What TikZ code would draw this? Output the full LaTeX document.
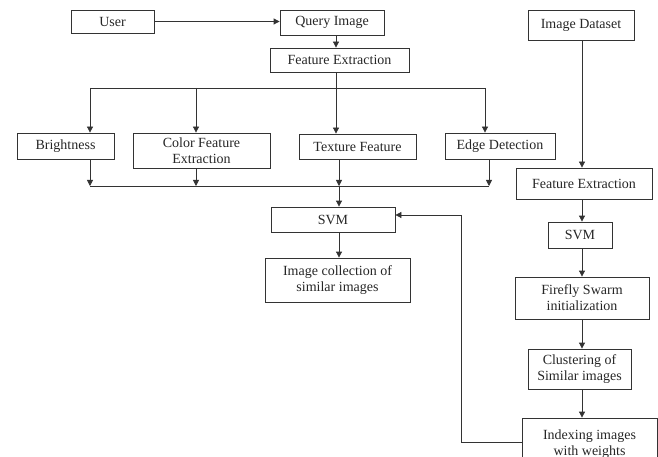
\documentclass[tikz,border=0pt]{standalone}
\usepackage{fontspec}
\setmainfont{Liberation Serif}
\usetikzlibrary{arrows.meta}
\begin{document}
\begin{tikzpicture}[x=1pt,y=-1pt]
\tikzset{box/.style={draw=black!80,line width=0.8pt,align=center,inner sep=0pt,
    font=\fontsize{14}{16}\selectfont,text=black!85},
  myarrow/.style={-{Triangle[length=6pt,width=6pt]},line width=0.8pt,draw=black!80},
  myline/.style={line width=0.8pt,draw=black!80}};
\useasboundingbox (0,0) rectangle (658,457);

% query side
\node[box,minimum width=83pt,minimum height=23pt] (user) at (112.5,21.5) {User};
\node[box,minimum width=104pt,minimum height=25pt] (query) at (332,22.5) {Query Image};
\node[box,minimum width=139pt,minimum height=24pt] (fe1) at (339.5,60) {Feature Extraction};
\node[box,minimum width=97pt,minimum height=26pt] (bright) at (65.5,146) {Brightness};
\node[box,minimum width=137pt,minimum height=35pt] (color) at (201.5,150.5) {Color Feature\\Extraction};
\node[box,minimum width=117pt,minimum height=25pt] (texture) at (357.5,146.5) {Texture Feature};
\node[box,minimum width=110pt,minimum height=26pt] (edge) at (500,146) {Edge Detection};
\node[box,minimum width=124pt,minimum height=25pt] (svm1) at (333,219.5) {SVM};
\node[box,minimum width=145pt,minimum height=44pt] (coll) at (337.5,280) {Image collection of\\similar images};

% dataset side
\node[box,minimum width=106pt,minimum height=30pt] (data) at (581,25) {Image Dataset};
\node[box,minimum width=136pt,minimum height=31pt] (fe2) at (584,183.5) {Feature Extraction};
\node[box,minimum width=64pt,minimum height=26pt] (svm2) at (580,235) {SVM};
\node[box,minimum width=134pt,minimum height=42pt] (firefly) at (582,298) {Firefly Swarm\\initialization};
\node[box,minimum width=103pt,minimum height=40pt] (cluster) at (579.5,369) {Clustering of\\Similar images};
\node[box,minimum width=135pt,minimum height=52pt] (index) at (589.5,444) {Indexing images\\with weights};

% split and merge points
\coordinate (split) at (336,88);
\coordinate (s1) at (90,88);
\coordinate (s2) at (196,88);
\coordinate (s4) at (485,88);
\coordinate (merge) at (339,186);
\coordinate (m1) at (90,186);
\coordinate (m2) at (196,186);
\coordinate (m4) at (489,186);
\coordinate (rcol) at (582,0);
\coordinate (back) at (461,442);
\coordinate (backtop) at (461,215);

\path (user.east) edge [myarrow] (user.east -| query.west);
\path (query.south -| split) edge [myarrow] (fe1.north -| split);
\draw[myline] (fe1.south -| split) -- (split);
\draw[myline] (s1) -- (s4);
\path (s1) edge [myarrow] (s1 |- bright.north);
\path (s2) edge [myarrow] (s2 |- color.north);
\path (split) edge [myarrow] (split |- texture.north);
\path (s4) edge [myarrow] (s4 |- edge.north);

\path (m1 |- bright.south) edge [myarrow] (m1);
\path (m2 |- color.south) edge [myarrow] (m2);
\path (merge |- texture.south) edge [myarrow] (merge);
\path (m4 |- edge.south) edge [myarrow] (m4);
\draw[myline] (m1) -- (m4);
\path (merge) edge [myarrow] (merge |- svm1.north);
\path (merge |- svm1.south) edge [myarrow] (merge |- coll.north);

\path (rcol |- data.south) edge [myarrow] (rcol |- fe2.north);
\path (rcol |- fe2.south) edge [myarrow] (rcol |- svm2.north);
\path (rcol |- svm2.south) edge [myarrow] (rcol |- firefly.north);
\path (rcol |- firefly.south) edge [myarrow] (rcol |- cluster.north);
\path (rcol |- cluster.south) edge [myarrow] (rcol |- index.north);

\draw[myarrow] (index.west |- back) -- (back) -- (backtop) -- (svm1.east |- backtop);
\end{tikzpicture}
\end{document}
